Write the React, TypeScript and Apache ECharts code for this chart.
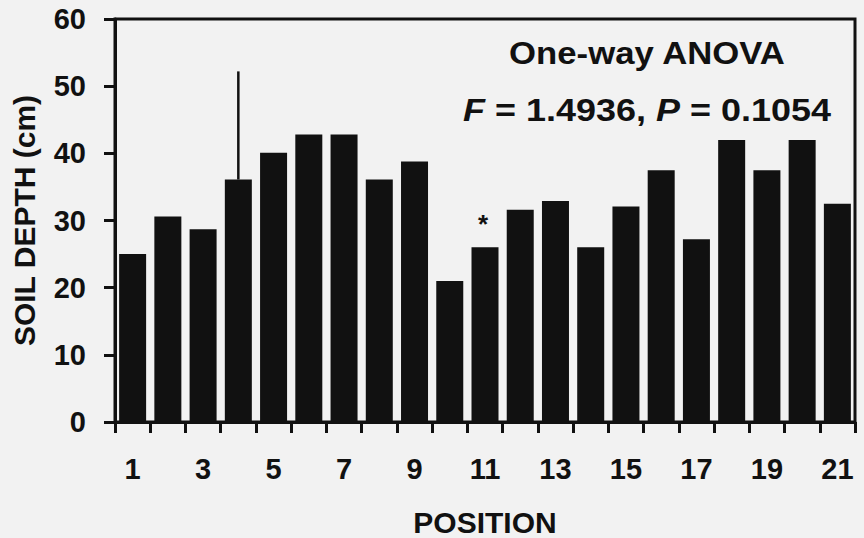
import React, { useEffect, useRef } from "react";
import * as echarts from "echarts";

const positions = ["1","2","3","4","5","6","7","8","9","10","11","12","13","14","15","16","17","18","19","20","21"];
const soilDepth = [25.0, 30.6, 28.7, 36.1, 40.1, 42.8, 42.8, 36.1, 38.8, 21.0, 26.0, 31.6, 32.9, 26.0, 32.1, 37.5, 27.2, 42.0, 37.5, 42.0, 32.5];
// error bar: [category index, bar top, error top]
const errorBars = [[3, 36.1, 52.2]];
const starredIndex = 10;
const yTicks = [0, 10, 20, 30, 40, 50, 60];
const annotationLine1 = "One-way ANOVA";

const FONT = "'Liberation Sans', Arial, sans-serif";

export default function App() {
  const ref = useRef<HTMLDivElement>(null);
  useEffect(() => {
    if (!ref.current) return;
    const chart = echarts.init(ref.current, null, { renderer: "svg" });
    const barData = soilDepth.map((v, i) =>
      i === starredIndex
        ? {
            value: v,
            label: {
              show: true,
              position: "top",
              distance: 10,
              formatter: "*",
              fontSize: 26,
              fontWeight: "bold",
              color: "#111",
              fontFamily: FONT,
              offset: [-2, 0],
            },
          }
        : v
    );
    chart.setOption({
      animation: false,
      backgroundColor: "#f2f2f2",
      grid: {
        left: 115,
        right: 9,
        top: 19,
        bottom: 116,
        show: true,
        borderColor: "#111",
        borderWidth: 3,
        backgroundColor: "transparent",
        outerBoundsMode: "none",
        containLabel: false,
      },
      xAxis: {
        type: "category",
        data: positions,
        name: "POSITION",
        nameLocation: "middle",
        nameGap: 85,
        nameTextStyle: { fontSize: 30, fontWeight: "bold", color: "#111", fontFamily: FONT },
        axisLine: { lineStyle: { color: "#111", width: 3 } },
        axisTick: { show: true, length: 11, interval: 0, lineStyle: { width: 3, color: "#111" } },
        axisLabel: { interval: 1, fontSize: 29, fontWeight: "bold", color: "#111", margin: 32, fontFamily: FONT },
      },
      yAxis: {
        type: "value",
        min: yTicks[0],
        max: yTicks[yTicks.length - 1],
        interval: 10,
        name: "SOIL DEPTH (cm)",
        nameLocation: "middle",
        nameGap: 76,
        nameTextStyle: { fontSize: 30, fontWeight: "bold", color: "#111", fontFamily: FONT },
        axisLine: { show: true, lineStyle: { color: "#111", width: 3 } },
        axisTick: { show: true, length: 11, lineStyle: { width: 3, color: "#111" } },
        axisLabel: { fontSize: 29, fontWeight: "bold", color: "#111", margin: 29, fontFamily: FONT },
        splitLine: { show: false },
      },
      series: [
        {
          type: "bar",
          data: barData,
          barWidth: 27,
          itemStyle: { color: "#111" },
        },
        {
          type: "custom",
          data: errorBars,
          renderItem: (params: any, api: any) => {
            const p1 = api.coord([api.value(0), api.value(1)]);
            const p2 = api.coord([api.value(0), api.value(2)]);
            return {
              type: "line",
              shape: { x1: p1[0], y1: p1[1], x2: p2[0], y2: p2[1] },
              style: { stroke: "#111", lineWidth: 2.5 },
            };
          },
          z: 5,
        },
      ],
      graphic: [
        {
          type: "text",
          x: 647,
          y: 53,
          scaleX: 1.12,
          style: {
            text: annotationLine1,
            fontSize: 31,
            fontWeight: "bold",
            fontFamily: FONT,
            fill: "#111",
            align: "center",
            verticalAlign: "middle",
          },
        },
        {
          type: "text",
          x: 647,
          y: 110,
          scaleX: 1.16,
          style: {
            text: "{i|F} = 1.4936, {i|P} = 0.1054",
            fontSize: 31,
            fontWeight: "bold",
            fontFamily: FONT,
            fill: "#111",
            align: "center",
            verticalAlign: "middle",
            rich: {
              i: { fontStyle: "italic", fontWeight: "bold", fontSize: 31, fontFamily: FONT, fill: "#111" },
            },
          },
        },
      ],
    });
    return () => chart.dispose();
  }, []);
  return (
    <div
      ref={ref}
      style={{ position: "absolute", left: 0, top: 0, width: 864, height: 538 }}
    />
  );
}
